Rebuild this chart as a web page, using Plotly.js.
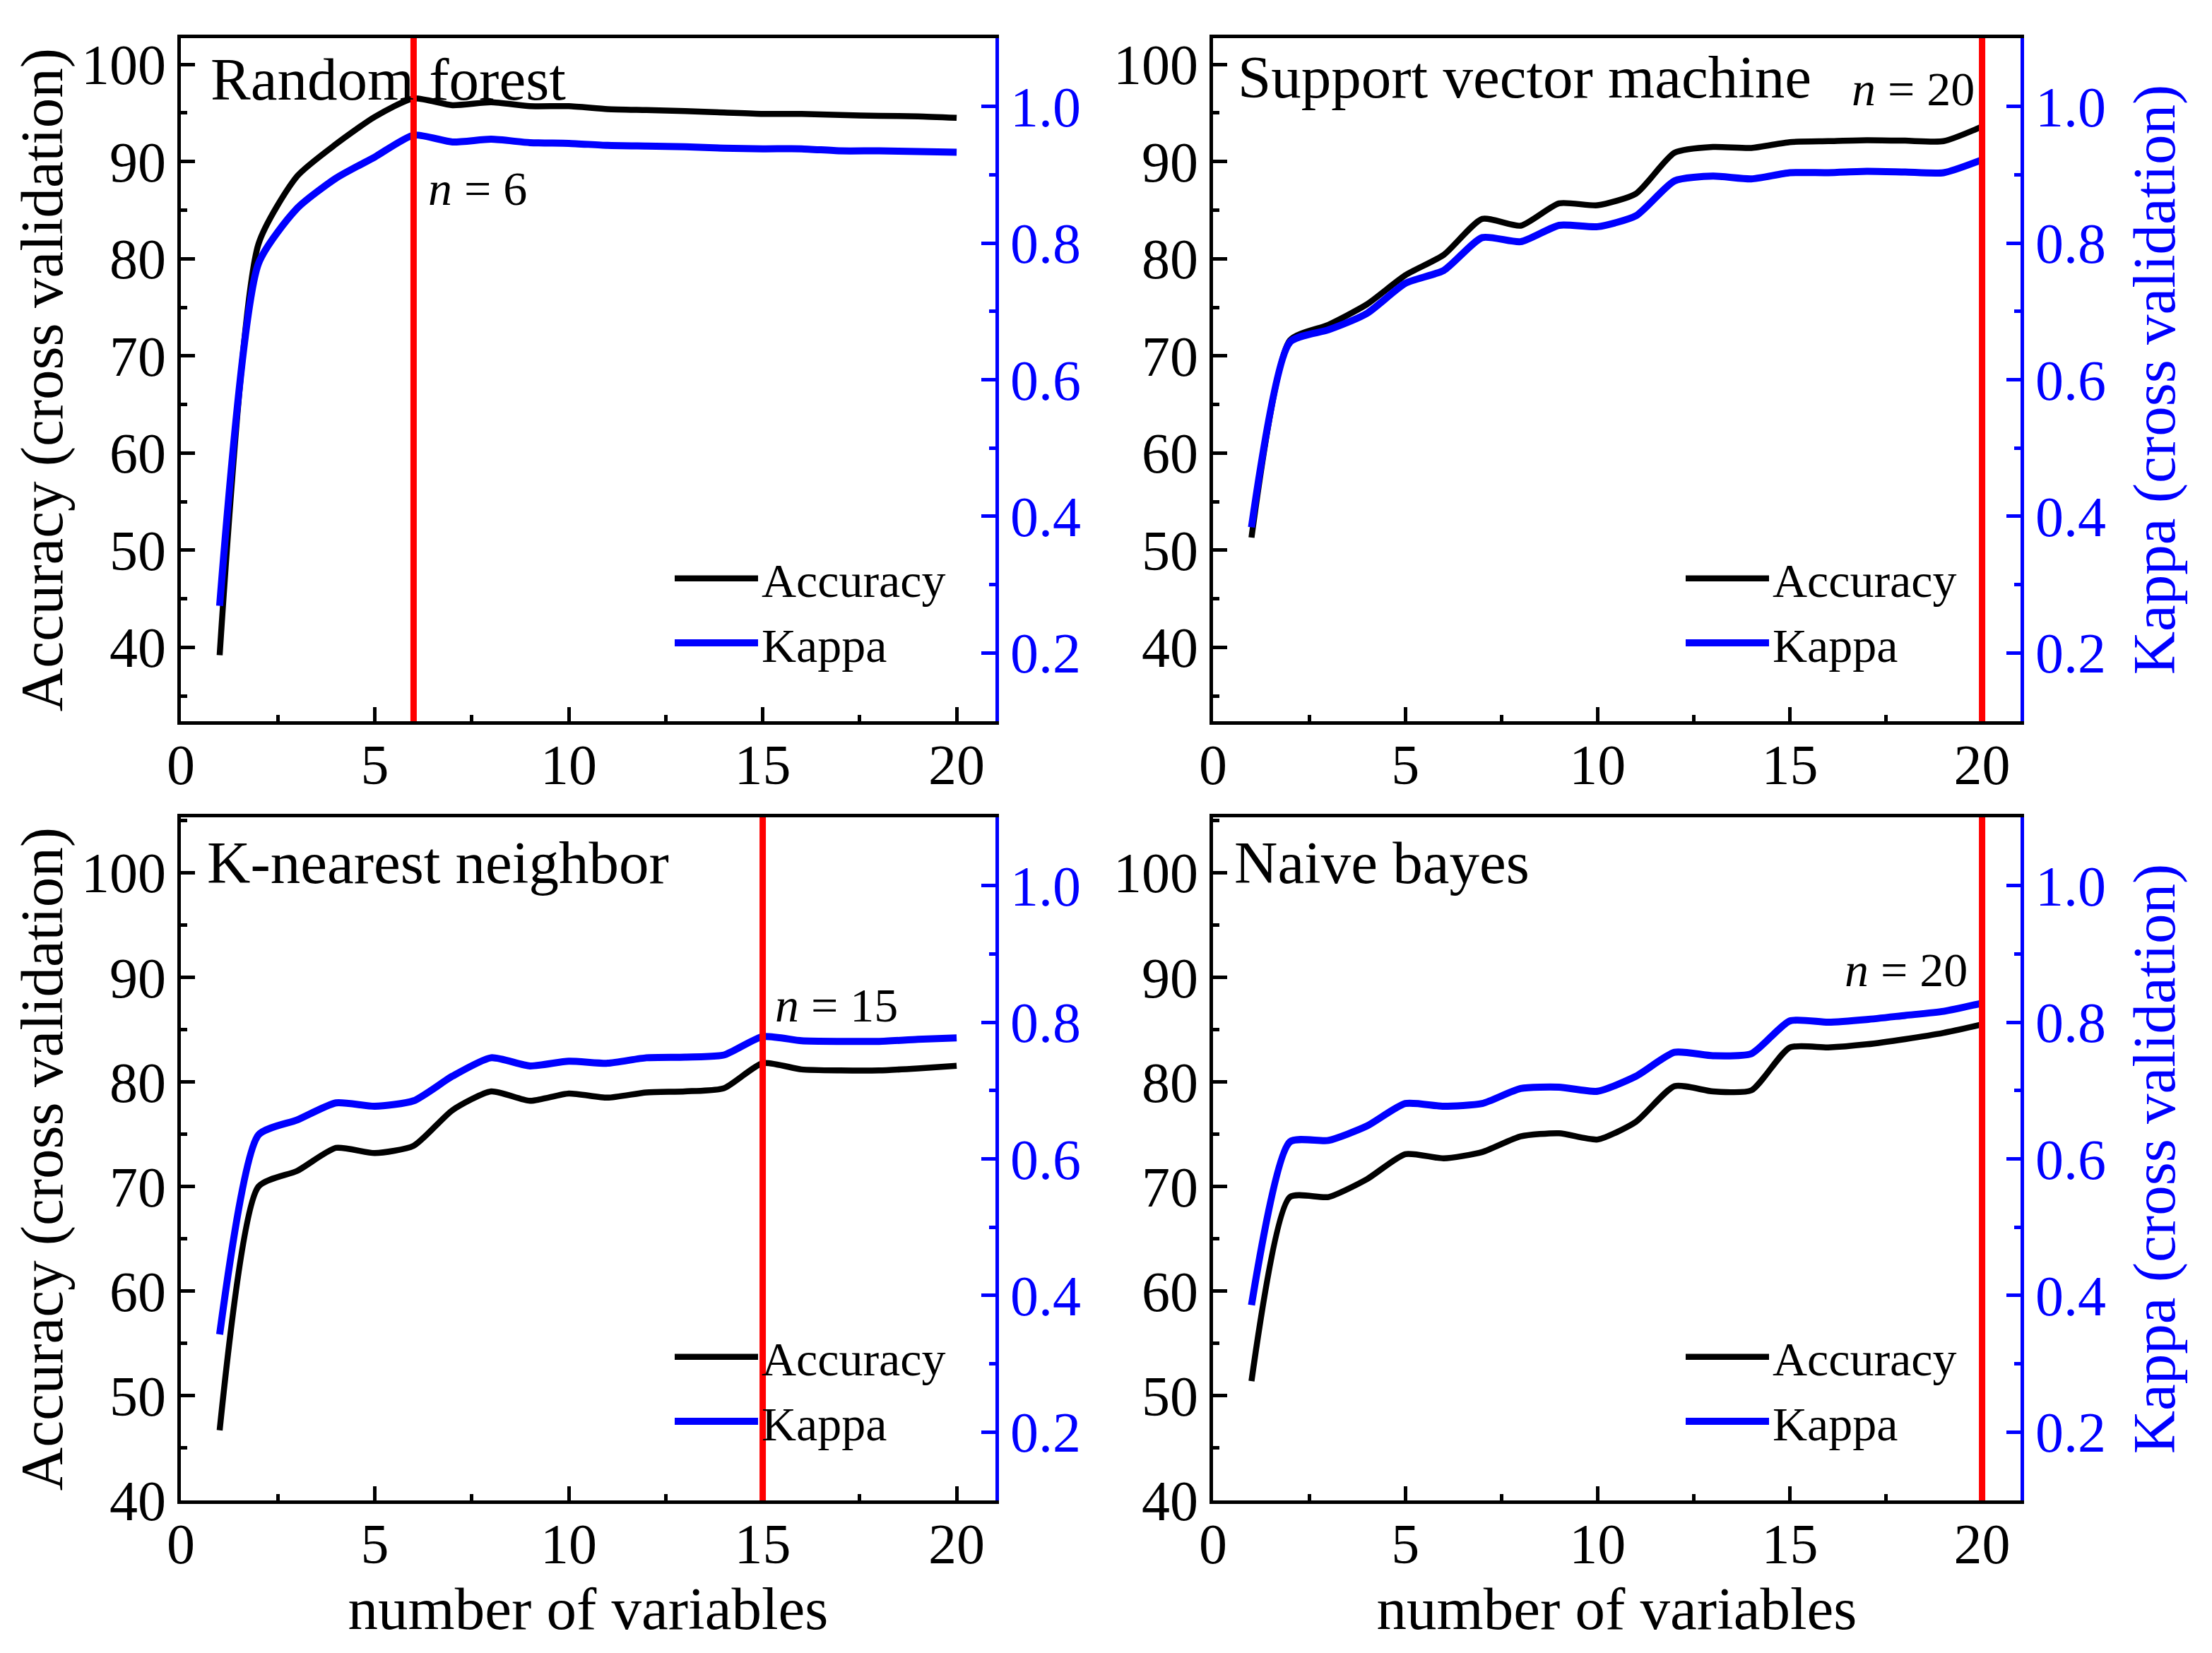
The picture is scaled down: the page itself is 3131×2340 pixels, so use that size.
<!DOCTYPE html>
<html>
<head>
<meta charset="utf-8">
<script src="https://cdn.plot.ly/plotly-3.0.1.min.js"></script>
<style>html,body{margin:0;padding:0;background:#fff;}#chart{width:3131px;height:2340px;}</style>
</head>
<body>
<div id="chart"></div>
<script>
// ---- data ----
const nVars = [1,2,3,4,5,6,7,8,9,10,11,12,13,14,15,16,17,18,19,20];
const modelNames = ["Random forest", "Support vector machine", "K-nearest neighbor", "Naive bayes"];
const selectedN = [6, 20, 15, 20];

const rfAcc   = [39.2, 81.5, 88.5, 91.8, 94.6, 96.5, 95.8, 96.1, 95.7, 95.7, 95.4, 95.3, 95.2, 95.05, 94.9, 94.9, 94.8, 94.7, 94.65, 94.5];
const rfKappa = [0.269, 0.77, 0.851, 0.895, 0.926, 0.958, 0.948, 0.952, 0.947, 0.946, 0.943, 0.942, 0.941, 0.939, 0.938, 0.938, 0.935, 0.935, 0.934, 0.933];

const svmAcc   = [51.3, 71.6, 73.2, 75.3, 78.3, 80.4, 84.1, 83.4, 85.7, 85.5, 86.7, 90.9, 91.5, 91.4, 92.0, 92.1, 92.2, 92.15, 92.1, 93.6];
const svmKappa = [0.384, 0.655, 0.673, 0.697, 0.741, 0.760, 0.808, 0.802, 0.826, 0.824, 0.840, 0.891, 0.898, 0.894, 0.903, 0.903, 0.905, 0.904, 0.903, 0.922];

const knnAcc   = [46.7, 70.0, 71.5, 73.7, 73.2, 73.9, 77.3, 79.1, 78.2, 78.9, 78.5, 79.0, 79.1, 79.4, 81.8, 81.2, 81.1, 81.1, 81.3, 81.55];
const knnKappa = [0.343, 0.635, 0.657, 0.682, 0.677, 0.685, 0.721, 0.748, 0.736, 0.743, 0.740, 0.748, 0.749, 0.752, 0.779, 0.773, 0.772, 0.772, 0.775, 0.777];

const nbAcc   = [51.4, 69.0, 69.0, 70.7, 73.1, 72.7, 73.3, 74.8, 75.1, 74.5, 76.2, 79.6, 79.1, 79.2, 83.3, 83.3, 83.6, 84.1, 84.7, 85.5];
const nbKappa = [0.386, 0.625, 0.627, 0.648, 0.681, 0.677, 0.681, 0.703, 0.705, 0.699, 0.721, 0.756, 0.751, 0.754, 0.802, 0.800, 0.804, 0.810, 0.816, 0.828];

const accTicks = [40, 50, 60, 70, 80, 90, 100];
const kappaTicks = [0.2, 0.4, 0.6, 0.8, 1.0];
const xTicks = [0, 5, 10, 15, 20];

// ---- layout helpers ----
const FONT = "Liberation Serif, Times New Roman, serif";
const BLUE = "#0000FF";
const W = 3131, H = 2340;
const xDom = [[256/W, 1409/W], [1717/W, 2860/W]];
const yDom = [[1 - 1021/H, 1 - 54/H], [1 - 2124/H, 1 - 1157/H]];

const accSeries = [rfAcc, svmAcc, knnAcc, nbAcc];
const kappaSeries = [rfKappa, svmKappa, knnKappa, nbKappa];

const traces = [];
const layout = {
  width: W, height: H,
  margin: {l: 0, r: 0, t: 0, b: 0},
  paper_bgcolor: "#fff", plot_bgcolor: "rgba(0,0,0,0)",
  font: {family: FONT, size: 80, color: "#000"},
  showlegend: true,
  annotations: [], shapes: []
};

function xAxis(row) {
  const ax = {
    range: [0, 21], tickvals: xTicks, ticks: "inside", ticklen: 20, tickwidth: 5, tickcolor: "#000",
    minor: {dtick: 2.5, tick0: 0, ticks: "inside", ticklen: 9, tickwidth: 5, tickcolor: "#000"},
    showline: true, linewidth: 5, linecolor: "#000", mirror: true,
    showgrid: false, zeroline: false, ticklabelstandoff: -12,
    tickfont: {family: FONT, size: 80, color: "#000"}
  };
  if (row === 1) ax.title = {text: "number of variables", font: {family: FONT, size: 85, color: "#000"}, standoff: 0};
  return ax;
}
function accAxis(row, col) {
  const ax = {
    domain: yDom[row],
    range: row === 0 ? [32.4, 102.7] : [40, 105.3],
    tickvals: accTicks, ticks: "inside", ticklen: 20, tickwidth: 5, tickcolor: "#000",
    minor: {dtick: 5, tick0: 0, ticks: "inside", ticklen: 9, tickwidth: 5, tickcolor: "#000"},
    showline: true, linewidth: 5, linecolor: "#000", mirror: false,
    showgrid: false, zeroline: false,
    tickfont: {family: FONT, size: 80, color: "#000"}
  };
  if (col === 0) ax.title = {text: "Accuracy (cross validation)", font: {family: FONT, size: 85, color: "#000"}, standoff: 0};
  return ax;
}
function kappaAxis(col) {
  const ax = {
    side: "right",
    range: [0.1, 1.1], tickvals: kappaTicks, tickformat: ".1f",
    ticks: "inside", ticklen: 20, tickwidth: 5, tickcolor: BLUE,
    minor: {dtick: 0.1, tick0: 0.1, ticks: "inside", ticklen: 9, tickwidth: 5, tickcolor: BLUE},
    showline: true, linewidth: 5, linecolor: BLUE,
    showgrid: false, zeroline: false,
    tickfont: {family: FONT, size: 80, color: BLUE}
  };
  if (col === 1) ax.title = {text: "Kappa (cross validation)", font: {family: FONT, size: 85, color: BLUE}, standoff: 40};
  return ax;
}

const legendPos = [
  {x: 950/W, y: 1 - 768/H},
  {x: 2381/W, y: 1 - 768/H},
  {x: 950/W, y: 1 - 1870/H},
  {x: 2381/W, y: 1 - 1870/H}
];
const titlePos = [
  {x: 296/W, y: 1 - 112/H},
  {x: 1750/W, y: 1 - 109/H},
  {x: 291/W, y: 1 - 1221/H},
  {x: 1745/W, y: 1 - 1221/H}
];
const nLabelPos = [
  {x: 604/W, y: 1 - 267/H, anchor: "left"},
  {x: 2797/W, y: 1 - 126/H, anchor: "right"},
  {x: 1095/W, y: 1 - 1423/H, anchor: "left"},
  {x: 2787/W, y: 1 - 1373/H, anchor: "right"}
];

for (let i = 0; i < 4; i++) {
  const row = Math.floor(i / 2), col = i % 2;
  const xName = i === 0 ? "xaxis" : "xaxis" + (i + 1);
  const xId = i === 0 ? "x" : "x" + (i + 1);
  const yAccN = 2*i + 1, yKapN = 2*i + 2;
  const yAccName = yAccN === 1 ? "yaxis" : "yaxis" + yAccN;
  const yAccId = yAccN === 1 ? "y" : "y" + yAccN;
  const yKapName = "yaxis" + yKapN;
  const yKapId = "y" + yKapN;
  const legName = i === 0 ? "legend" : "legend" + (i + 1);

  layout[xName] = xAxis(row);
  layout[xName].domain = xDom[col];
  layout[xName].anchor = yAccId;
  layout[yAccName] = accAxis(row, col);
  layout[yAccName].anchor = xId;
  layout[yKapName] = kappaAxis(col);
  layout[yKapName].overlaying = yAccId;
  layout[yKapName].anchor = xId;

  layout[legName] = {
    x: legendPos[i].x, y: legendPos[i].y, xanchor: "left", yanchor: "top",
    bgcolor: "rgba(0,0,0,0)", borderwidth: 0,
    font: {family: FONT, size: 68, color: "#000"},
    itemwidth: 118, tracegroupgap: 0
  };

  traces.push({
    x: nVars, y: accSeries[i], xaxis: xId, yaxis: yAccId,
    type: "scatter", mode: "lines", name: "Accuracy", legend: legName,
    line: {color: "#000", width: 8.5, shape: "spline", smoothing: 0.6}
  });
  traces.push({
    x: nVars, y: kappaSeries[i], xaxis: xId, yaxis: yKapId,
    type: "scatter", mode: "lines", name: "Kappa", legend: legName,
    line: {color: BLUE, width: 10, shape: "spline", smoothing: 0.6}
  });

  layout.shapes.push({
    type: "line", layer: "above", xref: xId, yref: yAccId + " domain",
    x0: selectedN[i], x1: selectedN[i], y0: 0, y1: 1,
    line: {color: "#FF0000", width: 9}
  });

  layout.annotations.push({
    xref: "paper", yref: "paper", x: titlePos[i].x, y: titlePos[i].y,
    xanchor: "left", yanchor: "middle", showarrow: false,
    text: modelNames[i], font: {family: FONT, size: 85, color: "#000"}
  });
  layout.annotations.push({
    xref: "paper", yref: "paper", x: nLabelPos[i].x, y: nLabelPos[i].y,
    xanchor: nLabelPos[i].anchor, yanchor: "middle", showarrow: false,
    text: "<i>n</i> = " + selectedN[i], font: {family: FONT, size: 68, color: "#000"}
  });
}

Plotly.newPlot("chart", traces, layout, {staticPlot: true, displayModeBar: false});
</script>
</body>
</html>
